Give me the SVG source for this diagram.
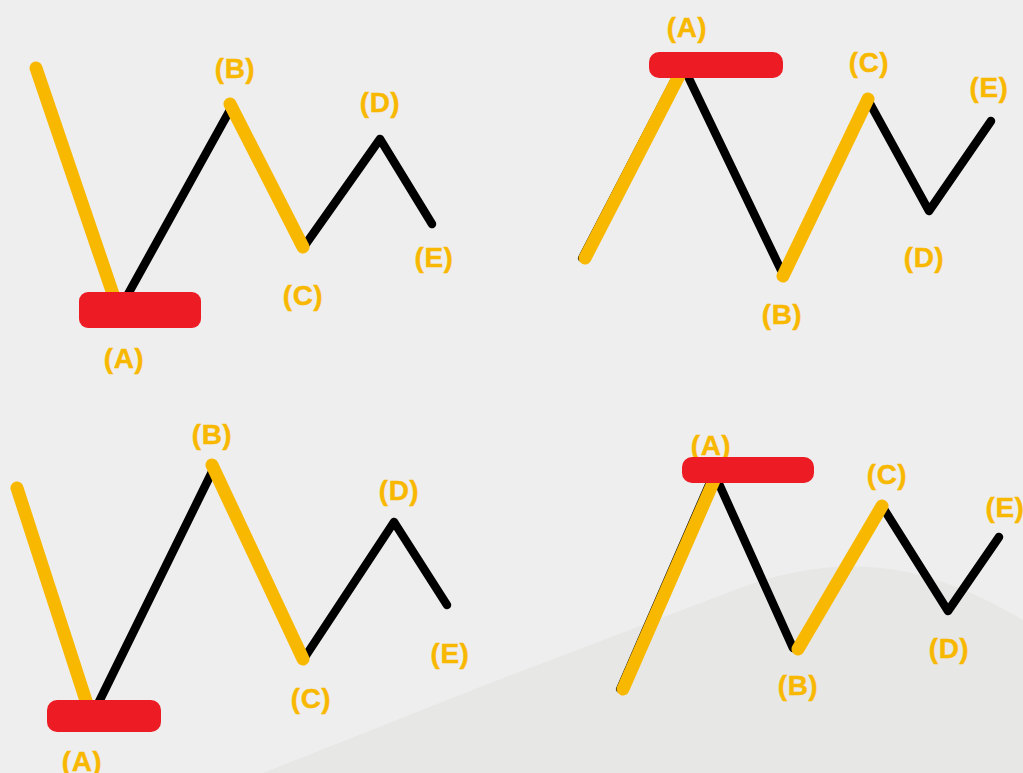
<svg xmlns="http://www.w3.org/2000/svg" width="1023" height="773" viewBox="0 0 1023 773">
<style>
.y{fill:none;stroke:#F9B800;stroke-width:13;stroke-linecap:round;stroke-linejoin:round}
.k{fill:none;stroke:#000;stroke-width:8.5;stroke-linecap:round;stroke-linejoin:round}
.kt{fill:none;stroke:#000;stroke-width:8;stroke-linecap:round}
.r{fill:#ED1C24}
.t{font-family:"Liberation Sans",Arial,sans-serif;font-weight:bold;font-size:28px;fill:#F9B800;stroke:#F9B800;stroke-width:0.4;text-anchor:middle;letter-spacing:0.5px}
</style>
<rect width="1023" height="773" fill="#EEEEEE"/>
<path d="M263,773 L480,687 L740,588 C790,570 830,565 870,567 C930,571 980,595 1023,620 L1023,773 Z" fill="#E7E7E5"/>

<g id="panel1">
  <g id="p1-lines">
    <polyline class="k" points="122,305 230,110"/>
    <polyline class="k" points="303,248 380,139 432,224"/>
    <line class="y" x1="36" y1="68" x2="115" y2="300"/>
    <line class="y" x1="230" y1="104" x2="303" y2="247"/>
  </g>
  <rect id="p1-A-box" class="r" x="79" y="292" width="122" height="36" rx="9"/>
  <text class="t" x="124" y="368">(A)</text>
  <text class="t" x="235" y="78">(B)</text>
  <text class="t" x="303" y="305">(C)</text>
  <text class="t" x="380" y="112">(D)</text>
  <text class="t" x="434" y="267">(E)</text>
</g>

<g id="panel2">
  <g id="p2-lines">
    <line class="kt" x1="582" y1="258" x2="677" y2="75"/>
    <polyline class="k" points="683,66 781,270"/>
    <polyline class="k" points="868,100 929,211 991,121"/>
    <line class="y" x1="585" y1="258" x2="682" y2="70"/>
    <line class="y" x1="783" y1="276" x2="868" y2="99"/>
  </g>
  <rect id="p2-A-box" class="r" x="649" y="52" width="134" height="26" rx="10"/>
  <text class="t" x="687" y="37">(A)</text>
  <text class="t" x="782" y="324">(B)</text>
  <text class="t" x="869" y="72">(C)</text>
  <text class="t" x="924" y="267">(D)</text>
  <text class="t" x="989" y="97">(E)</text>
</g>

<g id="panel3">
  <g id="p3-lines">
    <polyline class="k" points="94,712 212,472"/>
    <polyline class="k" points="303,660 394,522 447,605"/>
    <line class="y" x1="17" y1="488" x2="89" y2="710"/>
    <line class="y" x1="212" y1="465" x2="303" y2="659"/>
  </g>
  <rect id="p3-A-box" class="r" x="47" y="700" width="114" height="32" rx="10"/>
  <text class="t" x="82" y="771">(A)</text>
  <text class="t" x="212" y="444">(B)</text>
  <text class="t" x="311" y="708">(C)</text>
  <text class="t" x="399" y="500">(D)</text>
  <text class="t" x="450" y="663">(E)</text>
</g>

<g id="panel4">
  <text class="t" x="711" y="455">(A)</text>
  <g id="p4-lines">
    <line class="kt" x1="620" y1="689" x2="710" y2="482"/>
    <polyline class="k" points="715,475 793,648"/>
    <polyline class="k" points="882,506 948,611 999,537"/>
    <line class="y" x1="623" y1="689" x2="716" y2="476"/>
    <line class="y" x1="798" y1="649" x2="882" y2="506"/>
  </g>
  <rect id="p4-A-box" class="r" x="682" y="457" width="132" height="26" rx="10"/>
  <text class="t" x="798" y="695">(B)</text>
  <text class="t" x="887" y="484">(C)</text>
  <text class="t" x="949" y="658">(D)</text>
  <text class="t" x="1005" y="517">(E)</text>
</g>
</svg>
